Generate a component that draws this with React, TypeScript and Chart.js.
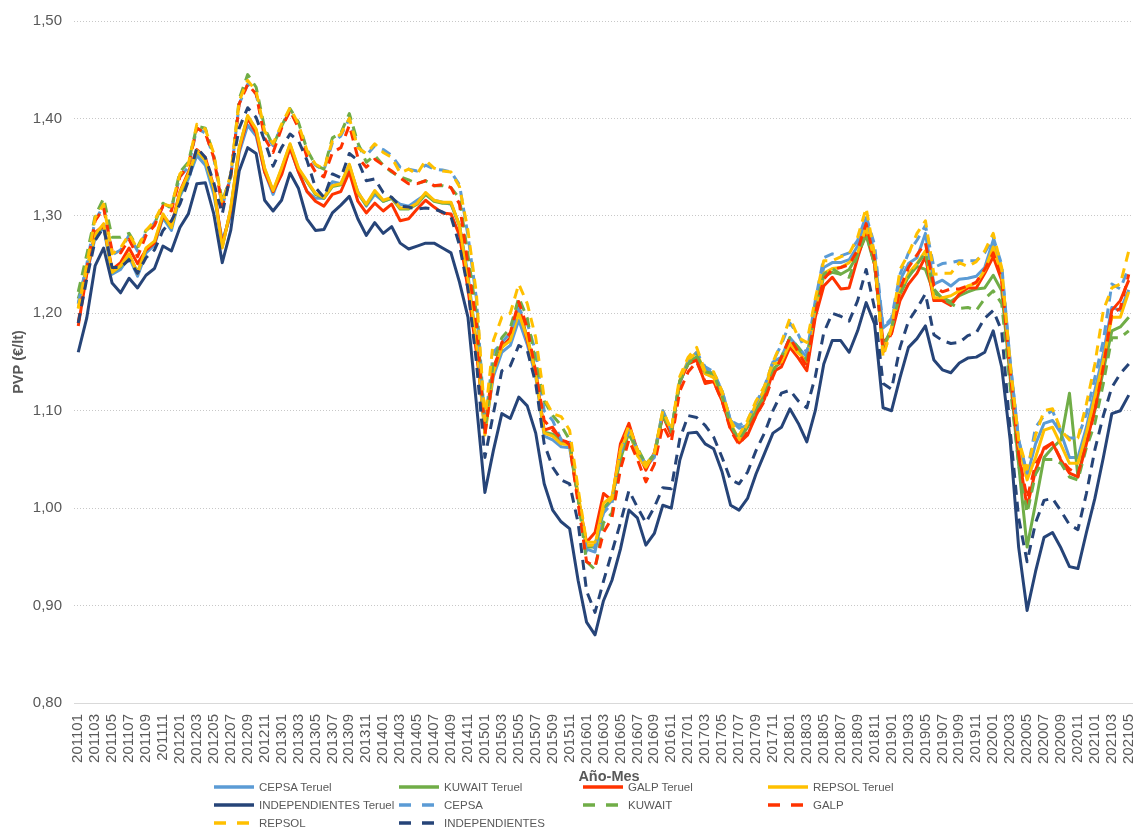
import React, { useEffect, useRef } from 'react';
import { Chart, registerables } from 'chart.js';

Chart.register(...registerables);

const months: string[] = [
  '201101', '201102', '201103', '201104', '201105', '201106', '201107', '201108', '201109', '201110', '201111', '201112',
  '201201', '201202', '201203', '201204', '201205', '201206', '201207', '201208', '201209', '201210', '201211', '201212',
  '201301', '201302', '201303', '201304', '201305', '201306', '201307', '201308', '201309', '201310', '201311', '201312',
  '201401', '201402', '201403', '201404', '201405', '201406', '201407', '201408', '201409', '201410', '201411', '201412',
  '201501', '201502', '201503', '201504', '201505', '201506', '201507', '201508', '201509', '201510', '201511', '201512',
  '201601', '201602', '201603', '201604', '201605', '201606', '201607', '201608', '201609', '201610', '201611', '201612',
  '201701', '201702', '201703', '201704', '201705', '201706', '201707', '201708', '201709', '201710', '201711', '201712',
  '201801', '201802', '201803', '201804', '201805', '201806', '201807', '201808', '201809', '201810', '201811', '201812',
  '201901', '201902', '201903', '201904', '201905', '201906', '201907', '201908', '201909', '201910', '201911', '201912',
  '202001', '202002', '202003', '202004', '202005', '202006', '202007', '202008', '202009', '202010', '202011', '202012',
  '202101', '202102', '202103', '202104', '202105',
];

const cepsaTeruel = [
  1.210, 1.240, 1.278, 1.288, 1.240, 1.245, 1.258, 1.238, 1.262, 1.270, 1.298, 1.285,
  1.320, 1.338, 1.362, 1.352, 1.322, 1.275, 1.300, 1.365, 1.393, 1.382, 1.345, 1.322,
  1.345, 1.370, 1.345, 1.325, 1.318, 1.318, 1.335, 1.333, 1.350, 1.325, 1.310, 1.322,
  1.315, 1.318, 1.312, 1.310, 1.316, 1.322, 1.316, 1.314, 1.312, 1.290, 1.240, 1.170,
  1.078, 1.135, 1.160, 1.167, 1.193, 1.168, 1.135, 1.074, 1.070, 1.063, 1.062, 1.012,
  0.958, 0.955, 0.998, 1.008, 1.055, 1.078, 1.056, 1.043, 1.052, 1.098, 1.078, 1.128,
  1.150, 1.155, 1.142, 1.138, 1.120, 1.090, 1.082, 1.085, 1.105, 1.122, 1.150, 1.155,
  1.175, 1.165, 1.155, 1.208, 1.247, 1.252, 1.252, 1.255, 1.269, 1.298, 1.260, 1.185,
  1.192, 1.234, 1.251, 1.257, 1.282, 1.230, 1.234, 1.228, 1.235, 1.236, 1.238, 1.247,
  1.275, 1.245, 1.150, 1.070, 1.033, 1.066, 1.087, 1.090, 1.077, 1.052, 1.052, 1.083,
  1.121, 1.159, 1.206, 1.203, 1.224,
];

const kuwaitTeruel = [
  1.215, 1.245, 1.280, 1.290, 1.242, 1.248, 1.260, 1.242, 1.266, 1.272, 1.300, 1.288,
  1.322, 1.342, 1.366, 1.357, 1.328, 1.268, 1.307, 1.370, 1.402, 1.388, 1.348, 1.325,
  1.348, 1.373, 1.348, 1.335, 1.322, 1.318, 1.330, 1.332, 1.352, 1.323, 1.311, 1.325,
  1.315, 1.318, 1.307, 1.307, 1.312, 1.322, 1.315, 1.313, 1.313, 1.290, 1.235, 1.165,
  1.080, 1.140, 1.165, 1.175, 1.205, 1.175, 1.140, 1.078, 1.076, 1.068, 1.066, 1.012,
  0.960, 0.960, 1.000, 1.010, 1.050, 1.078, 1.060, 1.045, 1.055, 1.097, 1.080, 1.130,
  1.150, 1.155, 1.138, 1.135, 1.113, 1.085, 1.070, 1.083, 1.100, 1.117, 1.143, 1.150,
  1.170, 1.162, 1.148, 1.200, 1.238, 1.242, 1.240, 1.245, 1.260, 1.280, 1.250, 1.165,
  1.183, 1.220, 1.238, 1.248, 1.245, 1.221, 1.216, 1.212, 1.218, 1.222, 1.225, 1.226,
  1.239, 1.223, 1.134, 1.045, 0.960, 1.005, 1.052, 1.062, 1.070, 1.118, 1.032, 1.072,
  1.100, 1.141, 1.182, 1.186, 1.196,
];

const galpTeruel = [
  1.187, 1.240, 1.283, 1.290, 1.245, 1.252, 1.267, 1.251, 1.265, 1.272, 1.300, 1.290,
  1.325, 1.345, 1.368, 1.360, 1.330, 1.270, 1.305, 1.368, 1.400, 1.385, 1.345, 1.325,
  1.342, 1.370, 1.345, 1.325, 1.315, 1.310, 1.322, 1.325, 1.345, 1.315, 1.303, 1.313,
  1.305, 1.312, 1.295, 1.297, 1.307, 1.316, 1.309, 1.303, 1.302, 1.280, 1.225, 1.160,
  1.085, 1.145, 1.165, 1.175, 1.208, 1.172, 1.140, 1.080, 1.083, 1.070, 1.067, 1.010,
  0.965, 0.975, 1.015, 1.008, 1.066, 1.087, 1.059, 1.039, 1.057, 1.095, 1.075, 1.130,
  1.148, 1.152, 1.128, 1.130, 1.110, 1.082, 1.067, 1.075, 1.095, 1.112, 1.140, 1.145,
  1.165, 1.154, 1.141, 1.196, 1.228, 1.237, 1.225, 1.226, 1.257, 1.285, 1.250, 1.170,
  1.179, 1.213, 1.230, 1.241, 1.258, 1.213, 1.213, 1.208, 1.220, 1.226, 1.226, 1.241,
  1.258, 1.234, 1.140, 1.055, 1.001, 1.039, 1.062, 1.067, 1.049, 1.036, 1.032, 1.066,
  1.103, 1.148, 1.203, 1.213, 1.234,
];

const repsolTeruel = [
  1.205, 1.245, 1.281, 1.292, 1.242, 1.249, 1.261, 1.241, 1.267, 1.274, 1.302, 1.288,
  1.324, 1.343, 1.367, 1.357, 1.329, 1.267, 1.308, 1.370, 1.403, 1.389, 1.349, 1.326,
  1.349, 1.374, 1.349, 1.336, 1.323, 1.319, 1.331, 1.333, 1.353, 1.324, 1.312, 1.326,
  1.316, 1.319, 1.308, 1.308, 1.313, 1.324, 1.316, 1.314, 1.314, 1.290, 1.235, 1.170,
  1.075, 1.140, 1.165, 1.172, 1.200, 1.175, 1.138, 1.077, 1.074, 1.066, 1.065, 1.015,
  0.962, 0.962, 1.005, 1.012, 1.059, 1.080, 1.054, 1.042, 1.056, 1.100, 1.080, 1.131,
  1.152, 1.160, 1.138, 1.134, 1.114, 1.087, 1.070, 1.087, 1.107, 1.121, 1.148, 1.150,
  1.169, 1.159, 1.151, 1.205, 1.241, 1.246, 1.247, 1.252, 1.262, 1.288, 1.255, 1.162,
  1.185, 1.223, 1.241, 1.251, 1.264, 1.216, 1.216, 1.218, 1.223, 1.228, 1.231, 1.244,
  1.268, 1.240, 1.145, 1.065, 1.029, 1.052, 1.080, 1.083, 1.065, 1.046, 1.046, 1.077,
  1.114, 1.152, 1.196, 1.196, 1.222,
];

const independientesTeruel = [
  1.160, 1.195, 1.249, 1.267, 1.231, 1.221, 1.236, 1.226, 1.239, 1.246, 1.269, 1.264,
  1.288, 1.302, 1.333, 1.334, 1.302, 1.252, 1.285, 1.346, 1.370, 1.364, 1.316, 1.305,
  1.316, 1.344, 1.328, 1.297, 1.285, 1.286, 1.303, 1.311, 1.320, 1.297, 1.280, 1.293,
  1.282, 1.289, 1.272, 1.266, 1.269, 1.272, 1.272, 1.267, 1.262, 1.232, 1.196, 1.107,
  1.016, 1.059, 1.097, 1.092, 1.114, 1.105, 1.077, 1.025, 0.998, 0.986, 0.979, 0.926,
  0.883, 0.870, 0.905, 0.926, 0.958, 0.998, 0.990, 0.962, 0.974, 1.003, 1.000, 1.049,
  1.077, 1.078, 1.066, 1.061, 1.037, 1.003, 0.998, 1.010, 1.035, 1.056, 1.077, 1.083,
  1.102, 1.087, 1.068, 1.100, 1.148, 1.172, 1.172, 1.160, 1.182, 1.211, 1.189, 1.103,
  1.100, 1.134, 1.165, 1.174, 1.187, 1.152, 1.142, 1.139, 1.149, 1.154, 1.155, 1.160,
  1.182, 1.145, 1.070, 0.960, 0.895, 0.935, 0.970, 0.975, 0.959, 0.940, 0.938, 0.975,
  1.010, 1.052, 1.097, 1.100, 1.116,
];

const cepsa = [
  1.210, 1.250, 1.296, 1.310, 1.260, 1.265, 1.280, 1.264, 1.283, 1.293, 1.310, 1.308,
  1.340, 1.350, 1.390, 1.385, 1.360, 1.310, 1.340, 1.415, 1.435, 1.425, 1.385, 1.372,
  1.392, 1.408, 1.392, 1.365, 1.352, 1.347, 1.375, 1.382, 1.400, 1.372, 1.362, 1.372,
  1.368, 1.362, 1.350, 1.348, 1.346, 1.352, 1.348, 1.347, 1.345, 1.332, 1.280, 1.215,
  1.085, 1.160, 1.170, 1.180, 1.205, 1.190, 1.160, 1.100, 1.090, 1.070, 1.068, 1.015,
  0.955, 0.960, 0.995, 1.005, 1.055, 1.080, 1.060, 1.045, 1.055, 1.100, 1.080, 1.130,
  1.150, 1.160, 1.145, 1.140, 1.120, 1.090, 1.085, 1.090, 1.108, 1.125, 1.150, 1.168,
  1.190, 1.178, 1.159, 1.213, 1.257, 1.261, 1.259, 1.262, 1.275, 1.300, 1.270, 1.185,
  1.195, 1.240, 1.262, 1.275, 1.290, 1.247, 1.251, 1.252, 1.254, 1.254, 1.254, 1.262,
  1.278, 1.250, 1.150, 1.070, 1.036, 1.083, 1.095, 1.100, 1.078, 1.072, 1.072, 1.097,
  1.134, 1.172, 1.230, 1.225, 1.247,
];

const kuwait = [
  1.222, 1.260, 1.300, 1.318, 1.278, 1.278, 1.282, 1.268, 1.285, 1.292, 1.313, 1.308,
  1.345, 1.355, 1.392, 1.390, 1.362, 1.315, 1.340, 1.420, 1.445, 1.432, 1.390, 1.372,
  1.392, 1.410, 1.396, 1.368, 1.352, 1.348, 1.380, 1.385, 1.405, 1.375, 1.355, 1.362,
  1.352, 1.345, 1.340, 1.337, 1.333, 1.336, 1.331, 1.331, 1.329, 1.318, 1.260, 1.200,
  1.080, 1.150, 1.175, 1.185, 1.216, 1.195, 1.150, 1.110, 1.095, 1.085, 1.070, 1.010,
  0.945, 0.937, 0.985, 0.995, 1.045, 1.075, 1.062, 1.045, 1.055, 1.095, 1.078, 1.130,
  1.148, 1.157, 1.140, 1.138, 1.115, 1.085, 1.070, 1.085, 1.100, 1.115, 1.140, 1.155,
  1.175, 1.165, 1.152, 1.205, 1.240, 1.246, 1.240, 1.237, 1.260, 1.282, 1.250, 1.165,
  1.185, 1.220, 1.237, 1.250, 1.262, 1.225, 1.215, 1.210, 1.205, 1.206, 1.203, 1.215,
  1.223, 1.210, 1.125, 1.045, 0.995, 1.035, 1.050, 1.050, 1.046, 1.032, 1.029, 1.062,
  1.087, 1.128, 1.175, 1.175, 1.182,
];

const galp = [
  1.190, 1.245, 1.295, 1.308, 1.264, 1.262, 1.276, 1.258, 1.280, 1.290, 1.310, 1.305,
  1.340, 1.352, 1.390, 1.385, 1.360, 1.310, 1.340, 1.415, 1.435, 1.425, 1.380, 1.365,
  1.390, 1.408, 1.390, 1.360, 1.345, 1.340, 1.365, 1.370, 1.393, 1.360, 1.350, 1.358,
  1.352, 1.346, 1.339, 1.333, 1.333, 1.336, 1.331, 1.332, 1.329, 1.312, 1.250, 1.190,
  1.075, 1.140, 1.170, 1.180, 1.212, 1.185, 1.140, 1.090, 1.080, 1.072, 1.065, 1.005,
  0.945, 0.940, 0.975, 0.990, 1.040, 1.070, 1.050, 1.027, 1.045, 1.085, 1.068, 1.120,
  1.140, 1.150, 1.130, 1.130, 1.110, 1.080, 1.065, 1.078, 1.095, 1.110, 1.135, 1.155,
  1.175, 1.160, 1.145, 1.200, 1.235, 1.245, 1.247, 1.250, 1.265, 1.292, 1.255, 1.160,
  1.180, 1.225, 1.247, 1.260, 1.272, 1.228, 1.222, 1.225, 1.225, 1.228, 1.232, 1.245,
  1.262, 1.235, 1.140, 1.055, 1.010, 1.045, 1.060, 1.067, 1.050, 1.040, 1.035, 1.065,
  1.100, 1.145, 1.200, 1.205, 1.240,
];

const repsol = [
  1.205, 1.250, 1.298, 1.312, 1.261, 1.267, 1.281, 1.266, 1.285, 1.295, 1.312, 1.310,
  1.343, 1.353, 1.394, 1.389, 1.364, 1.312, 1.343, 1.418, 1.439, 1.428, 1.387, 1.374,
  1.394, 1.411, 1.394, 1.367, 1.353, 1.348, 1.377, 1.384, 1.400, 1.370, 1.364, 1.374,
  1.365, 1.360, 1.344, 1.348, 1.343, 1.357, 1.349, 1.346, 1.345, 1.330, 1.285, 1.220,
  1.090, 1.172, 1.196, 1.200, 1.230, 1.210, 1.175, 1.113, 1.097, 1.094, 1.080, 1.020,
  0.965, 0.965, 1.000, 1.010, 1.060, 1.085, 1.060, 1.045, 1.055, 1.100, 1.080, 1.135,
  1.155, 1.165, 1.140, 1.140, 1.120, 1.090, 1.075, 1.090, 1.110, 1.125, 1.150, 1.170,
  1.195, 1.175, 1.170, 1.215, 1.254, 1.254, 1.258, 1.261, 1.278, 1.308, 1.260, 1.155,
  1.185, 1.245, 1.261, 1.282, 1.295, 1.240, 1.241, 1.241, 1.252, 1.248, 1.253, 1.264,
  1.282, 1.247, 1.148, 1.070, 1.040, 1.075, 1.100, 1.102, 1.080, 1.070, 1.072, 1.107,
  1.148, 1.203, 1.226, 1.230, 1.264,
];

const independientes = [
  1.190, 1.235, 1.275, 1.288, 1.247, 1.247, 1.255, 1.241, 1.257, 1.265, 1.285, 1.295,
  1.312, 1.336, 1.370, 1.360, 1.334, 1.302, 1.343, 1.390, 1.411, 1.401, 1.377, 1.351,
  1.370, 1.384, 1.377, 1.357, 1.329, 1.319, 1.343, 1.339, 1.364, 1.357, 1.336, 1.338,
  1.324, 1.319, 1.310, 1.309, 1.307, 1.308, 1.307, 1.304, 1.299, 1.270, 1.225, 1.150,
  1.052, 1.097, 1.141, 1.146, 1.167, 1.162, 1.128, 1.066, 1.042, 1.029, 1.025, 0.985,
  0.915, 0.893, 0.925, 0.955, 0.985, 1.018, 1.001, 0.985, 1.001, 1.021, 1.020, 1.071,
  1.095, 1.093, 1.085, 1.073, 1.052, 1.029, 1.025, 1.037, 1.059, 1.077, 1.100, 1.118,
  1.121, 1.110, 1.103, 1.135, 1.180, 1.200, 1.197, 1.192, 1.213, 1.245, 1.205, 1.128,
  1.122, 1.165, 1.192, 1.205, 1.220, 1.178, 1.172, 1.169, 1.170, 1.177, 1.180, 1.195,
  1.203, 1.182, 1.080, 0.990, 0.945, 0.985, 1.008, 1.010, 0.997, 0.983, 0.978, 1.015,
  1.060, 1.095, 1.124, 1.138, 1.148,
];

const seriesLabels = [
  'CEPSA Teruel', 'KUWAIT Teruel', 'GALP Teruel', 'REPSOL Teruel', 'INDEPENDIENTES Teruel',
  'CEPSA', 'KUWAIT', 'GALP', 'REPSOL', 'INDEPENDIENTES',
];
const seriesData = [
  cepsaTeruel, kuwaitTeruel, galpTeruel, repsolTeruel, independientesTeruel,
  cepsa, kuwait, galp, repsol, independientes,
];
const seriesColors = [
  '#5B9BD5', '#70AD47', '#FF3300', '#FFC000', '#264478',
  '#5B9BD5', '#70AD47', '#FF3300', '#FFC000', '#264478',
];
const seriesDashed = [false, false, false, false, false, true, true, true, true, true];

const xAxisTitle = 'Año-Mes';
const yAxisTitle = 'PVP (€/lt)';

const FONT = "'Liberation Sans', Arial, Helvetica, sans-serif";
const LEGEND_COL_X = [214, 399, 583, 768];
const LEGEND_ROW_Y = [787, 805, 823];

export default function App() {
  const canvasRef = useRef<HTMLCanvasElement>(null);

  useEffect(() => {
    const canvas = canvasRef.current;
    if (!canvas) return;
    Chart.defaults.font.family = FONT;
    const chart = new Chart(canvas, {
      type: 'line',
      data: {
        labels: months,
        datasets: seriesLabels.map((label, i) => ({
          label,
          data: seriesData[i],
          borderColor: seriesColors[i],
          backgroundColor: seriesColors[i],
          borderWidth: 3,
          borderDash: seriesDashed[i] ? [10, 7] : [],
          borderJoinStyle: 'round' as const,
          borderCapStyle: 'butt' as const,
          pointRadius: 0,
          pointHoverRadius: 0,
          tension: 0,
          fill: false,
          order: seriesLabels.length - i,
        })),
      },
      options: {
        responsive: false,
        animation: false,
        devicePixelRatio: 1,
        layout: { padding: { left: 0, right: 0, top: 20, bottom: 42 } },
        plugins: {
          legend: { display: false },
          tooltip: { enabled: false },
        },
        scales: {
          x: {
            offset: true,
            grid: { display: false, drawTicks: false },
            border: { display: true, color: '#D9D9D9', width: 1 },
            ticks: {
              autoSkip: false,
              maxRotation: 90,
              minRotation: 90,
              padding: 11,
              color: '#595959',
              font: { size: 15, family: FONT },
              callback: (_v: any, i: number) => (i % 2 === 0 ? months[i] : ''),
            },
            title: { display: false },
            afterFit: (s: any) => {
              s.height = 85;
              s.paddingLeft = 0;
              s.paddingRight = 0;
            },
          },
          y: {
            min: 0.8,
            max: 1.5,
            grid: { color: '#C8C8C8', drawTicks: false, lineWidth: 1 },
            border: { display: false, dash: [1, 2] },
            ticks: {
              stepSize: 0.1,
              padding: 12,
              color: '#595959',
              font: { size: 15, family: FONT },
              callback: (v: any) => Number(v).toFixed(2).replace('.', ','),
            },
            title: {
              display: true,
              text: yAxisTitle,
              color: '#595959',
              font: { size: 14.5, weight: 'bold', family: FONT },
              padding: { top: 10, bottom: 0 },
            },
            afterFit: (s: any) => {
              s.width = 74;
            },
          },
        },
      } as any,
    });
    return () => chart.destroy();
  }, []);

  return (
    <div style={{ position: 'fixed', left: 0, top: 0, width: 1133, height: 830, background: '#ffffff', overflow: 'hidden' }}>
      <canvas ref={canvasRef} width={1133} height={830} style={{ display: 'block', width: 1133, height: 830 }} />
      <div
        style={{
          position: 'absolute',
          left: 509,
          width: 200,
          top: 768,
          height: 20,
          lineHeight: '20px',
          textAlign: 'center',
          font: `bold 14.5px ${FONT}`,
          color: '#595959',
        }}
      >
        {xAxisTitle}
      </div>
      {seriesLabels.map((label, i) => (
        <div
          key={label}
          style={{
            position: 'absolute',
            left: LEGEND_COL_X[i % 4],
            top: LEGEND_ROW_Y[Math.floor(i / 4)] - 8,
            height: 16,
            display: 'flex',
            alignItems: 'center',
            whiteSpace: 'nowrap',
            font: `11.5px ${FONT}`,
            color: '#595959',
          }}
        >
          <svg width={40} height={6} style={{ marginRight: 5, display: 'block' }}>
            <line
              x1={0}
              y1={3}
              x2={40}
              y2={3}
              stroke={seriesColors[i]}
              strokeWidth={3.5}
              strokeDasharray={seriesDashed[i] ? '12 11' : undefined}
            />
          </svg>
          <span>{label}</span>
        </div>
      ))}
    </div>
  );
}
